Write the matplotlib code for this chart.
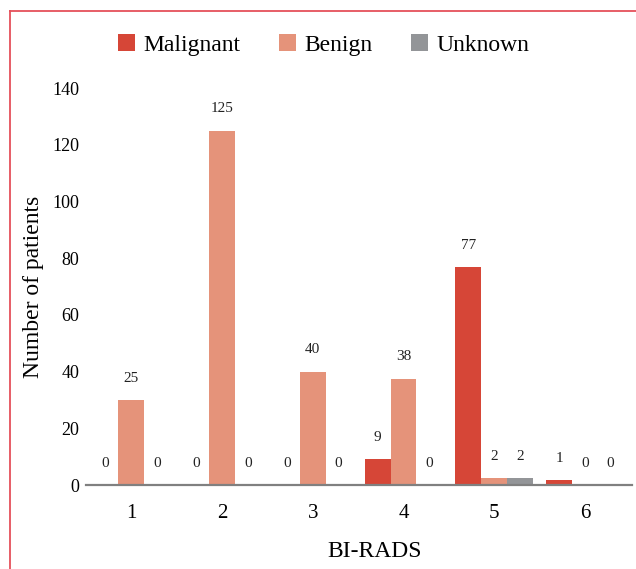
import numpy as np
import matplotlib
matplotlib.use('Agg')
import matplotlib.pyplot as plt
from matplotlib.lines import Line2D

plt.rcParams['font.family'] = ['Liberation Serif', 'DejaVu Serif']

# data
categories = ['1', '2', '3', '4', '5', '6']
series = ['Malignant', 'Benign', 'Unknown']
malignant = [0, 0, 0, 9, 76.8, 1.8]
benign = [30, 125, 40, 37.5, 2.5, 0]
unknown = [0, 0, 0, 0, 2.5, 0]
# printed labels (not always equal to bar height)
malignant_lbl = ['0', '0', '0', '9', '77', '1']
benign_lbl = ['25', '125', '40', '38', '2', '0']
unknown_lbl = ['0', '0', '0', '0', '2', '0']
colors = ['#D64637', '#E5937A', '#939598']

fig = plt.figure(figsize=(6.36, 5.69), dpi=100)
ax = fig.add_axes([86/636, 84/569, 546/636, 397/569])

x = np.arange(1, len(categories) + 1)
w = 0.285
vals = [malignant, benign, unknown]
lbls = [malignant_lbl, benign_lbl, unknown_lbl]
for i in range(3):
    pos = x + (i - 1) * w
    ax.bar(pos, vals[i], width=w, color=colors[i], label=series[i], zorder=2)
    for p, v, t in zip(pos, vals[i], lbls[i]):
        ax.annotate(t, (p, v), xytext=(0, 11), textcoords='offset points',
                    ha='center', va='bottom', fontsize=11, color='#222222')

ax.set_xlim(0.5, 6.52)
ax.set_ylim(0, 140)
ax.set_yticks(range(0, 141, 20))
ax.set_xticks(x)
ax.set_xticklabels(categories)
for s in ['top', 'right', 'left']:
    ax.spines[s].set_visible(False)
ax.spines['bottom'].set_color('#808080')
ax.spines['bottom'].set_linewidth(1.6)
ax.spines['bottom'].set_zorder(3)
ax.tick_params(axis='y', length=0, pad=5, labelsize=13)
ax.tick_params(axis='x', length=0, pad=14, labelsize=15)

ax.set_ylabel('Number of patients', fontsize=17)
ax.yaxis.set_label_coords(-0.077, 0.5)
ax.set_xlabel('BI-RADS', fontsize=17)
ax.xaxis.set_label_coords(0.529, -0.142)

fig.legend(loc='center', bbox_to_anchor=(0.509, 0.921), ncol=3, frameon=False,
           fontsize=17, handlelength=0.72, handleheight=0.72, handletextpad=0.35,
           columnspacing=1.65, borderpad=0)

# frame lines at top and left
fig.add_artist(Line2D([9.5/636, 9.5/636], [0, 1 - 10.5/569], color='#E5505A', lw=1.3))
fig.add_artist(Line2D([9.5/636, 1], [1 - 10.5/569, 1 - 10.5/569], color='#E5505A', lw=1.3))

fig.savefig('out.png', dpi=100)
